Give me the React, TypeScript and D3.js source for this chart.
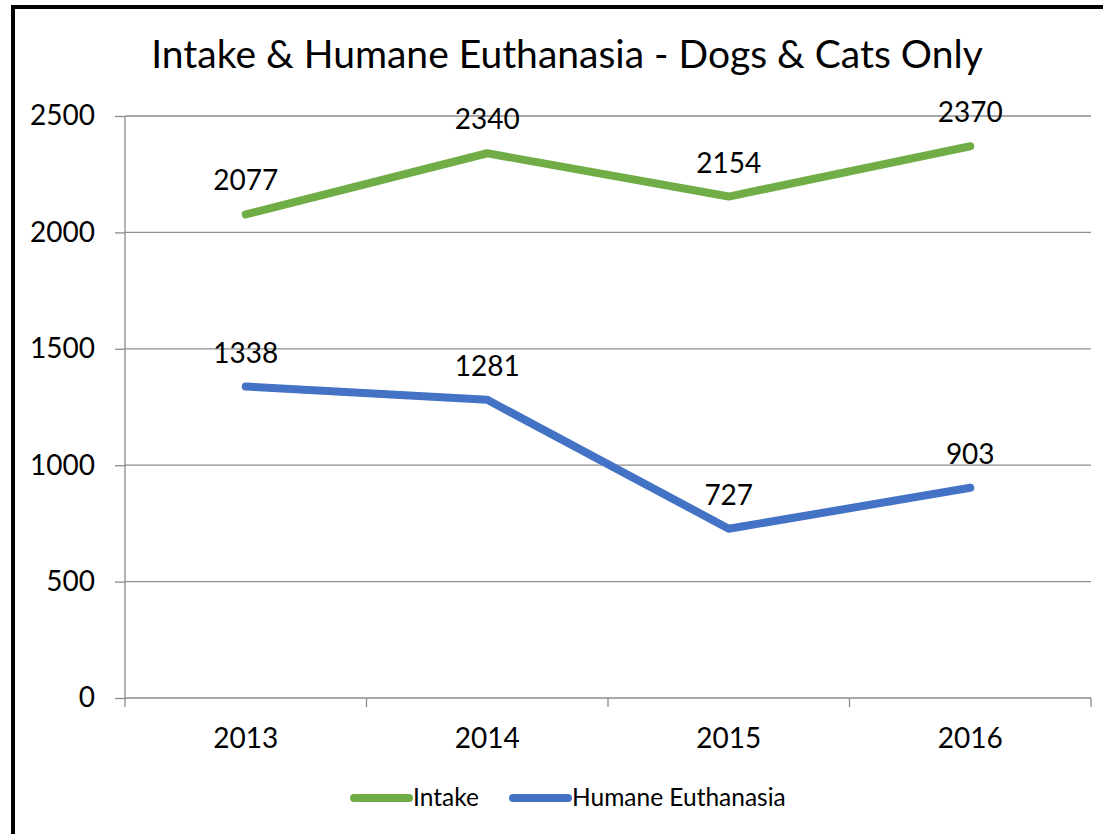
import * as d3 from 'd3';
import { useEffect, useRef } from 'react';

const years = ['2013', '2014', '2015', '2016'];
const intake = [2077, 2340, 2154, 2370];
const euthanasia = [1338, 1281, 727, 903];
const yTicks = [0, 500, 1000, 1500, 2000, 2500];

const series = [
  { name: 'Intake', values: intake, color: '#70AD47' },
  { name: 'Humane Euthanasia', values: euthanasia, color: '#4472C4' },
];

const W = 1103;
const H = 834;
const FONT = 'Lato, "Open Sans", sans-serif';

const App = () => {
  const ref = useRef<SVGSVGElement | null>(null);

  useEffect(() => {
    const svg = d3.select(ref.current);
    svg.selectAll('*').remove();

    const margin = { top: 116, left: 125, right: 12, bottom: 136 };
    const innerW = W - margin.left - margin.right;
    const innerH = H - margin.top - margin.bottom;

    const x = d3.scaleBand().domain(years).range([0, innerW]);
    const y = d3.scaleLinear().domain([0, 2500]).range([innerH, 0]);

    svg.append('rect').attr('width', W).attr('height', H).attr('fill', '#fff');

    // outer chart border (cropped on right/bottom)
    svg
      .append('rect')
      .attr('x', 13)
      .attr('y', 7)
      .attr('width', W + 20)
      .attr('height', H + 20)
      .attr('fill', 'none')
      .attr('stroke', '#000')
      .attr('stroke-width', 4);

    svg
      .append('text')
      .attr('x', 567)
      .attr('y', 68)
      .attr('text-anchor', 'middle')
      .style('font-family', FONT)
      .style('font-size', '39px')
      .style('fill', '#000')
      .text('Intake & Humane Euthanasia - Dogs & Cats Only');

    const g = svg.append('g').attr('transform', `translate(${margin.left},${margin.top})`);

    // gridlines
    g.selectAll('.grid')
      .data(yTicks.filter((t) => t > 0))
      .enter()
      .append('line')
      .attr('x1', 0)
      .attr('x2', innerW)
      .attr('y1', (d) => y(d))
      .attr('y2', (d) => y(d))
      .attr('stroke', '#8c8c8c')
      .attr('stroke-width', 1.3);

    // y axis
    const yAxis = g
      .append('g')
      .call(d3.axisLeft(y).tickValues(yTicks).tickFormat(d3.format('d')).tickSize(10).tickPadding(20));
    yAxis.select('.domain').attr('stroke', '#8c8c8c').attr('stroke-width', 1.3).attr('d', `M0,0V${innerH}`);
    yAxis.selectAll('.tick line').attr('stroke', '#8c8c8c').attr('stroke-width', 1.3);
    yAxis.selectAll('text').style('font-family', FONT).style('font-size', '28px').style('fill', '#000');

    // x axis
    const xAxis = g
      .append('g')
      .attr('transform', `translate(0,${innerH})`)
      .call(d3.axisBottom(x).tickSize(0).tickPadding(30));
    xAxis.select('.domain').attr('stroke', '#8c8c8c').attr('stroke-width', 1.3).attr('d', `M0,0H${innerW}`);
    xAxis.selectAll('text').style('font-family', FONT).style('font-size', '28px').style('fill', '#000');
    g.selectAll('.xtick')
      .data([...years.map((d) => x(d) as number), innerW])
      .enter()
      .append('line')
      .attr('x1', (d) => d)
      .attr('x2', (d) => d)
      .attr('y1', innerH)
      .attr('y2', innerH + 9)
      .attr('stroke', '#8c8c8c')
      .attr('stroke-width', 1.3);

    const cx = (i: number) => (x(years[i]) as number) + x.bandwidth() / 2;
    const line = d3
      .line<number>()
      .x((_, i) => cx(i))
      .y((d) => y(d));

    series.forEach((s) => {
      g.append('path')
        .datum(s.values)
        .attr('d', line)
        .attr('fill', 'none')
        .attr('stroke', s.color)
        .attr('stroke-width', 8)
        .attr('stroke-linecap', 'round')
        .attr('stroke-linejoin', 'round');

      g.selectAll(null)
        .data(s.values)
        .enter()
        .append('text')
        .attr('x', (_, i) => cx(i))
        .attr('y', (d) => y(d) - 24)
        .attr('text-anchor', 'middle')
        .style('font-family', FONT)
        .style('font-size', '28px')
        .style('fill', '#000')
        .text((d) => d);
    });

    // legend
    const legendX = [351, 510];
    series.forEach((s, i) => {
      const lg = svg.append('g').attr('transform', `translate(${legendX[i]},798)`);
      lg.append('line')
        .attr('x1', 3)
        .attr('x2', 58)
        .attr('stroke', s.color)
        .attr('stroke-width', 8)
        .attr('stroke-linecap', 'round');
      lg.append('text')
        .attr('x', 62)
        .attr('y', 8)
        .style('font-family', FONT)
        .style('font-size', '24.5px')
        .style('fill', '#000')
        .text(s.name);
    });
  }, []);

  return (
    <svg
      ref={ref}
      width={W}
      height={H}
      style={{ position: 'absolute', left: 0, top: 0, display: 'block' }}
    ></svg>
  );
};

export default App;
